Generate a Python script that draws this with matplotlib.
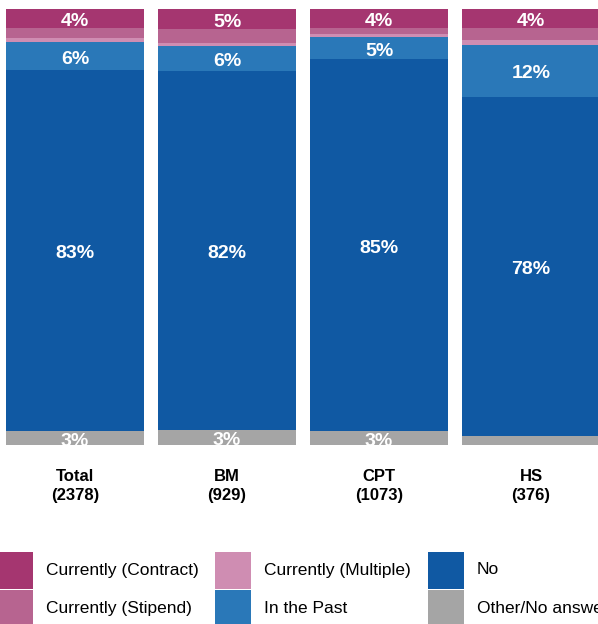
import matplotlib
matplotlib.use("Agg")
import matplotlib.pyplot as plt
from matplotlib.patches import Rectangle
from matplotlib.transforms import offset_copy
import numpy as np

plt.rcParams["font.family"] = ["Liberation Sans", "DejaVu Sans"]

# data (percent of respondents), stacked bottom -> top
groups = ["Total", "BM", "CPT", "HS"]
counts = [2378, 929, 1073, 376]
other = [3.2, 3.4, 3.2, 2.1]
no = [82.8, 82.3, 85.3, 77.8]
past = [6.4, 5.7, 5.0, 11.9]
multiple = [0.9, 0.9, 0.7, 1.1]
stipend = [2.3, 3.0, 1.4, 2.8]
contract = [4.4, 4.6, 4.4, 4.4]

series = [
    ("Other/No answer", other, "#a5a5a5", True),
    ("No", no, "#1059a3", True),
    ("In the Past", past, "#2a78b8", True),
    ("Currently (Multiple)", multiple, "#cf8db2", False),
    ("Currently (Stipend)", stipend, "#b76490", False),
    ("Currently (Contract)", contract, "#a53670", True),
]

W, H = 598, 624
fig = plt.figure(figsize=(W / 100, H / 100), dpi=100)
ax = fig.add_axes([0, 1 - 445 / H, 1, (445 - 9) / H])
label_tr = offset_copy(ax.transData, fig=fig, x=0, y=-3, units="dots")

x = np.arange(len(groups))
bottom = np.zeros(len(groups))
for name, vals, color, show in series:
    vals = np.array(vals)
    ax.bar(x, vals, bottom=bottom, width=0.908, color=color, linewidth=0)
    if show:
        for xi, b, v in zip(x, bottom, vals):
            if v >= 2.5:
                ax.text(xi, b + v / 2, f"{v:.0f}%", ha="center", va="center",
                        color="white", fontsize=14, fontweight="bold",
                        transform=label_tr, clip_on=True)
    bottom += vals

ax.set_xlim(-75 / 152, 523 / 152)
ax.set_ylim(0, 100)
ax.axis("off")

# category labels under bars
for xi, g, n in zip(x, groups, counts):
    ax.annotate(f"{g}\n({n})", xy=(xi, 0), xycoords="data",
                xytext=(0, -24), textcoords="offset pixels",
                ha="center", va="top", fontsize=12, fontweight="bold",
                linespacing=1.3, annotation_clip=False)

# legend drawn by hand, column-major
lax = fig.add_axes([0, 0, 1, 1])
lax.set_xlim(0, W)
lax.set_ylim(H, 0)
lax.axis("off")
legend_order = [series[5], series[4], series[3], series[2], series[1], series[0]]
col_x = [-3, 215, 428]
for k, (name, vals, color, show) in enumerate(legend_order):
    col, row = divmod(k, 2)
    px = col_x[col]
    py = 552 + row * 38.3
    lax.add_patch(Rectangle((px, py), 36, 36.5, color=color, linewidth=0))
    lax.text(px + 49, py + 18, name, ha="left", va="center", fontsize=12.5)

fig.savefig("out.png", dpi=100)
